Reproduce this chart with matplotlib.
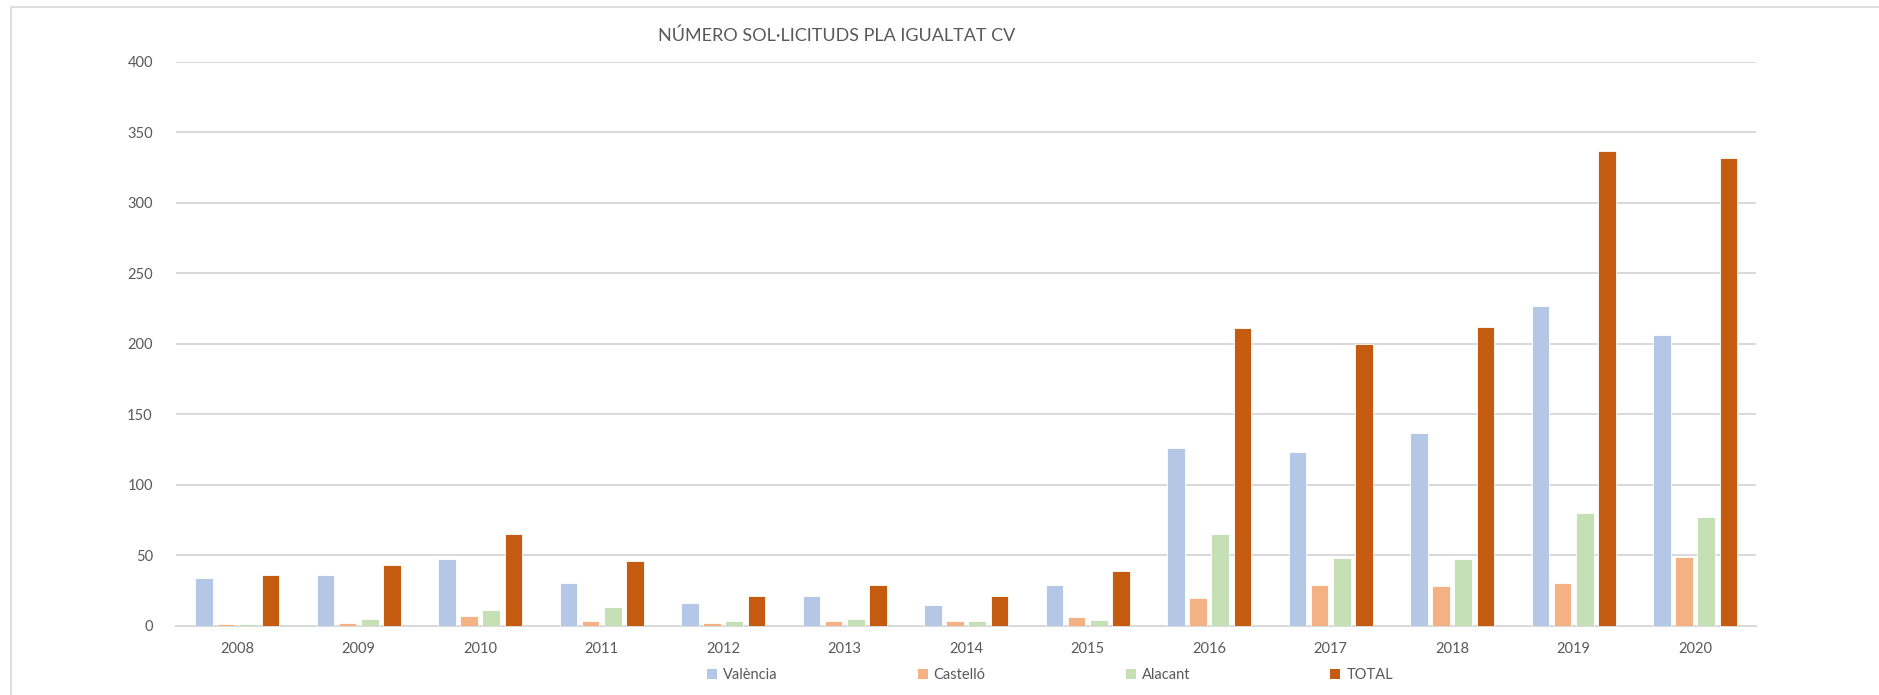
import numpy as np
from matplotlib import pyplot as plt
from matplotlib.patches import Rectangle, Patch

plt.rcParams['font.family'] = ['Lato', 'DejaVu Sans']

years = ['2008', '2009', '2010', '2011', '2012', '2013', '2014',
         '2015', '2016', '2017', '2018', '2019', '2020']
valencia = [34, 36, 47, 30, 16, 21, 15, 29, 126, 123, 137, 227, 206]
castello = [1, 2, 7, 3, 2, 3, 3, 6, 20, 29, 28, 30, 49]
alacant = [1, 5, 11, 13, 3, 5, 3, 4, 65, 48, 47, 80, 77]
total = [36, 43, 65, 46, 21, 29, 21, 39, 211, 200, 212, 337, 332]

series = [('València', valencia, '#b4c7e7'),
          ('Castelló', castello, '#f4b183'),
          ('Alacant', alacant, '#c5e0b4'),
          ('TOTAL', total, '#c55a11')]

txt = '#595959'
grid = '#d9d9d9'

fig = plt.figure(figsize=(18.79, 6.95), dpi=100)
ax = fig.add_axes([0.0939, 0.0997, 0.8406, 0.8115])

x = np.arange(len(years))
step = 0.182
w = 0.145
for i, (name, vals, col) in enumerate(series):
    ax.bar(x + (i - 1.5) * step, vals, w, color=col, edgecolor='white',
           linewidth=0.6, label=name, zorder=3)

ax.set_xlim(-0.5, len(years) - 0.5)
ax.set_ylim(0, 400)
ax.set_yticks(range(0, 401, 50))
ax.set_xticks(x)
ax.set_xticklabels(years)
ax.yaxis.grid(True, color=grid, linewidth=1.4, zorder=0)
for s in ['top', 'right', 'left']:
    ax.spines[s].set_visible(False)
ax.spines['bottom'].set_color(grid)
ax.spines['bottom'].set_linewidth(1.4)
ax.tick_params(axis='both', length=0, labelsize=10.5, colors=txt)
ax.tick_params(axis='y', pad=17)
ax.tick_params(axis='x', pad=12)

fig.text(837 / 1879, 1 - 36 / 695, 'NÚMERO SOL·LICITUDS PLA IGUALTAT CV',
         ha='center', va='center', fontsize=13, color=txt)

handles = [Patch(facecolor=c, edgecolor='none') for _, _, c in series]
labels = [n for n, _, _ in series]
fig.legend(handles, labels, loc='center', ncol=4,
           bbox_to_anchor=(1050 / 1879, 1 - 675 / 695), frameon=False,
           fontsize=10.5, labelcolor=txt, handlelength=0.7, handleheight=0.7,
           handletextpad=0.4, columnspacing=9.6)

fig.add_artist(Rectangle((10.7 / 1879, -0.05), 1.0, 1 - 7.3 / 695 + 0.05,
                         transform=fig.transFigure, fill=False,
                         edgecolor=grid, linewidth=1.2))

plt.savefig('out.png', dpi=100)
